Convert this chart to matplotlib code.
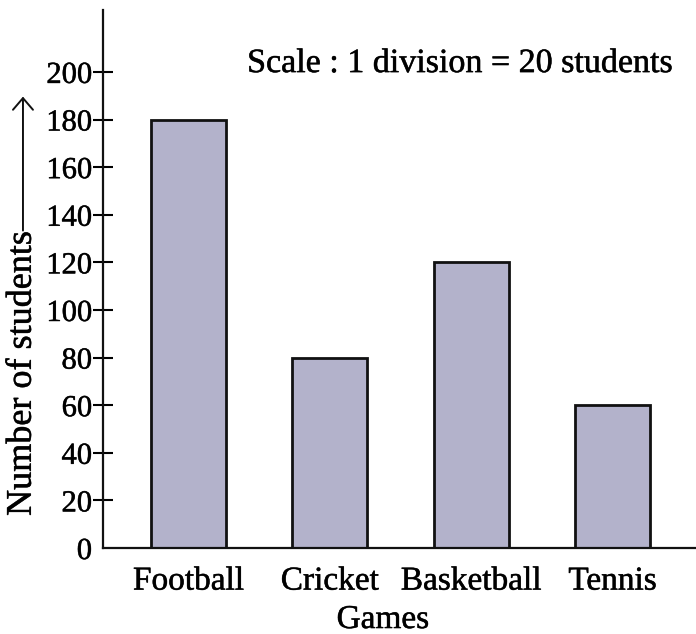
import numpy as np
import matplotlib.pyplot as plt
import matplotlib.patheffects as pe

games = ["Football", "Cricket", "Basketball", "Tennis"]
students = [180, 80, 120, 60]
y_ticks = list(range(0, 201, 20))

plt.rcParams["font.family"] = ["Liberation Serif", "DejaVu Serif"]
# slightly heavier strokes for the text
heavy = [pe.withStroke(linewidth=0.4, foreground="#1a1a1a")]

fig = plt.figure(figsize=(6.96, 6.34), dpi=100)
ax = fig.add_axes([0.148, 0.1356, 0.852, 0.8486])

x = np.arange(len(games))
ax.bar(x, students, width=0.53, color="#b3b2cb", edgecolor="#111111", linewidth=2.0)

ax.set_xlim(-0.605, 3.59)
ax.set_ylim(0, 226)

for side in ["top", "right"]:
    ax.spines[side].set_visible(False)
for side in ["left", "bottom"]:
    ax.spines[side].set_linewidth(1.6)
    ax.spines[side].set_color("#111111")

ax.set_yticks(y_ticks)
ax.set_yticklabels([str(v) for v in y_ticks], fontsize=22)
ax.tick_params(axis="y", direction="inout", length=14, width=1.5, pad=1)
# no tick mark at the origin
ax.yaxis.get_major_ticks()[0].tick1line.set_visible(False)

ax.set_xticks(x)
ax.set_xticklabels(games, fontsize=24)
ax.tick_params(axis="x", length=0, pad=13)

ax.set_xlabel("Games", fontsize=24, labelpad=0)
ax.xaxis.set_label_coords(0.472, -0.105)

# y-axis label with an arrow pointing up
ylab = fig.text(0.032, 0.411, "Number of students", rotation=90, fontsize=26,
                ha="center", va="center")
ax.annotate("", xy=(0.033, 0.852), xytext=(0.033, 0.632), xycoords="figure fraction",
            arrowprops=dict(arrowstyle="->,head_length=0.35,head_width=0.3",
                            color="#111111", lw=1.4, mutation_scale=24))

scale = ax.text(0.243, 0.9, "Scale : 1 division = 20 students", transform=ax.transAxes,
                fontsize=24.5, ha="left", va="center")

for t in ax.get_xticklabels() + ax.get_yticklabels() + [ax.xaxis.label, ylab, scale]:
    t.set_path_effects(heavy)

fig.savefig("out.png", dpi=100)
